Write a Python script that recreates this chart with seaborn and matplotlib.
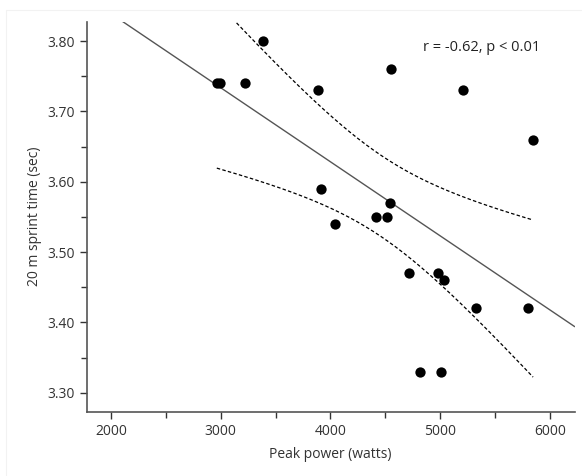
import numpy as np
import pandas as pd
import matplotlib
matplotlib.use("Agg")
import matplotlib.pyplot as plt
import seaborn as sns
from matplotlib.lines import Line2D

# ── data ───────────────────────────────────────────────────────
peak_power = [2965, 2995, 3220, 3384, 3890, 3910, 4040, 4416, 4519, 4547,
              4550, 4720, 4978, 5005, 5039, 5212, 4817, 5324, 5800, 5846]
sprint_time = [3.74, 3.74, 3.74, 3.80, 3.73, 3.59, 3.54, 3.55, 3.55, 3.57,
               3.76, 3.47, 3.47, 3.33, 3.46, 3.73, 3.33, 3.42, 3.42, 3.66]
x_ticks = [2000, 3000, 4000, 5000, 6000]
y_ticks = [3.30, 3.40, 3.50, 3.60, 3.70, 3.80]
annotation = "r = -0.62, p < 0.01"

df = pd.DataFrame({"power": peak_power, "time": sprint_time})

# ── style ──────────────────────────────────────────────────────
sns.set_style("ticks")
plt.rcParams["font.family"] = ["Open Sans", "DejaVu Sans"]
plt.rcParams["font.size"] = 10

fig = plt.figure(figsize=(5.82, 4.76), dpi=100)
ax = fig.add_axes([86.7 / 582, 1 - 411.7 / 476, (574.7 - 86.7) / 582, (411.7 - 21.7) / 476])
ax.set_xlim(1780, 6225)
ax.set_ylim(3.273, 3.8275)

# ── regression line + 95% CI of the mean (dashed) ──────────────
sns.regplot(data=df, x="power", y="time", ax=ax, ci=None, truncate=False,
            scatter_kws=dict(s=55, color="black", alpha=1, linewidths=0, zorder=3),
            line_kws=dict(color="#555555", lw=1.0))

x = df["power"].to_numpy(float)
y = df["time"].to_numpy(float)
n = len(x)
slope, intercept = np.polyfit(x, y, 1)
resid = y - (slope * x + intercept)
s_err = np.sqrt(np.sum(resid ** 2) / (n - 2))
t_crit = 2.101  # t(0.975, df=18)
xs = np.linspace(x.min(), x.max(), 200)
fit = slope * xs + intercept
half = t_crit * s_err * np.sqrt(1 / n + (xs - x.mean()) ** 2 / np.sum((x - x.mean()) ** 2))
band = pd.DataFrame({"power": np.r_[xs, xs], "time": np.r_[fit + half, fit - half],
                     "side": ["upper"] * len(xs) + ["lower"] * len(xs)})
sns.lineplot(data=band, x="power", y="time", units="side", estimator=None, ax=ax,
             color="black", lw=0.9, linestyle=(0, (2.8, 1.8)))

# ── axes ───────────────────────────────────────────────────────
ax.set_xlim(1780, 6225)
ax.set_ylim(3.273, 3.8275)
ax.set_xticks(x_ticks)
ax.set_xticks([2500, 3500, 4500, 5500], minor=True)
ax.set_yticks(y_ticks)
ax.set_yticks([3.35, 3.45, 3.55, 3.65, 3.75], minor=True)
ax.set_yticklabels([f"{v:.2f}" for v in y_ticks])
ax.tick_params(which="major", length=5, width=1, color="#333333", labelcolor="#333333")
ax.tick_params(which="minor", length=4, width=1, color="#333333")
sns.despine(ax=ax)
for sp in ("left", "bottom"):
    ax.spines[sp].set_color("#555555")
    ax.spines[sp].set_linewidth(1.2)

ax.set_xlabel("Peak power (watts)", color="#333333", labelpad=6)
ax.set_ylabel("20 m sprint time (sec)", color="#333333", labelpad=4)
ax.text(0.929, 0.935, annotation, transform=ax.transAxes, ha="right", va="center",
        color="#222222", fontsize=10.5)

# faint frame around the figure
fig.add_artist(Line2D([6 / 582, 6 / 582], [0, 1 - 10 / 476], color="#f2f2f2", lw=0.8))
fig.add_artist(Line2D([6 / 582, 1], [1 - 10 / 476, 1 - 10 / 476], color="#f2f2f2", lw=0.8))

fig.savefig("out.png", dpi=100)
